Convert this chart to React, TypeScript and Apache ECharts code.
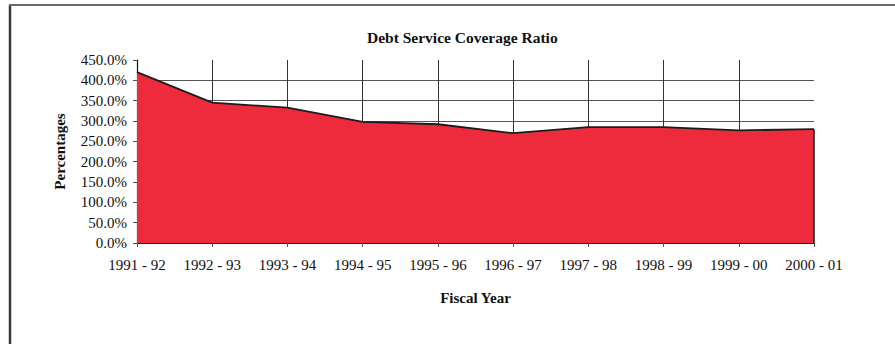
import React, { useEffect, useRef } from "react";
import * as echarts from "echarts";

const categories = [
  "1991 - 92", "1992 - 93", "1993 - 94", "1994 - 95", "1995 - 96",
  "1996 - 97", "1997 - 98", "1998 - 99", "1999 - 00", "2000 - 01",
];
const ratioValues = [420, 345, 333, 298, 292, 270, 285, 285, 277, 280];
const yMin = 0;
const yMax = 450;
const yStep = 50;

const TITLE = "Debt Service Coverage Ratio";
const X_NAME = "Fiscal Year";
const Y_NAME = "Percentages";

const FONT = "'Liberation Serif', 'Times New Roman', serif";

export default function App() {
  const ref = useRef<HTMLDivElement | null>(null);

  useEffect(() => {
    if (!ref.current) return;
    const chart = echarts.init(ref.current, undefined, { renderer: "svg" });
    const last = categories.length - 1;
    chart.setOption({
      animation: false,
      backgroundColor: "#ffffff",
      textStyle: { fontFamily: FONT },
      title: {
        text: TITLE,
        left: 362,
        top: 24,
        textStyle: { fontFamily: FONT, fontSize: 15.5, fontWeight: "bold", color: "#111" },
      },
      graphic: [
        { type: "line", shape: { x1: 10, y1: 5, x2: 10, y2: 344 }, style: { stroke: "#3a3a3a", lineWidth: 2.5 } },
        { type: "line", shape: { x1: 9, y1: 5, x2: 895, y2: 5 }, style: { stroke: "#6a6a6a", lineWidth: 2 } },
      ],
      grid: { left: 137, right: 81, top: 60, bottom: 101, containLabel: false },
      xAxis: {
        type: "category",
        data: categories,
        boundaryGap: false,
        name: X_NAME,
        nameLocation: "middle",
        nameGap: 47,
        nameTextStyle: { fontFamily: FONT, fontSize: 15, fontWeight: "bold", color: "#111" },
        axisLine: { show: true, lineStyle: { color: "#111", width: 1.2 } },
        axisTick: { show: true, alignWithLabel: true, length: 4, lineStyle: { color: "#555" } },
        axisLabel: { fontFamily: FONT, fontSize: 15, color: "#111", margin: 14, interval: 0 },
        splitLine: { show: true, showMinLine: false, showMaxLine: false, lineStyle: { color: "#333", width: 1 } },
      },
      yAxis: {
        type: "value",
        min: yMin,
        max: yMax,
        interval: yStep,
        name: Y_NAME,
        nameLocation: "middle",
        nameGap: 70,
        nameTextStyle: { fontFamily: FONT, fontSize: 15, fontWeight: "bold", color: "#111" },
        axisLine: { show: true, lineStyle: { color: "#111", width: 1.2 } },
        axisTick: { show: true, length: 4, lineStyle: { color: "#555" } },
        axisLabel: {
          fontFamily: FONT,
          fontSize: 15,
          color: "#111",
          margin: 10,
          formatter: (v: number) => v.toFixed(1) + "%",
        },
        splitLine: { show: true, showMinLine: false, showMaxLine: false, lineStyle: { color: "#555", width: 1 } },
      },
      series: [
        {
          type: "line",
          data: ratioValues,
          symbol: "none",
          lineStyle: { color: "#1c1c1c", width: 1.8 },
          areaStyle: { color: "#ee2b3d", opacity: 1 },
          z: 3,
          markLine: {
            silent: true,
            symbol: "none",
            label: { show: false },
            lineStyle: { color: "#1c1c1c", width: 1.5, type: "solid" },
            data: [
              [
                { coord: [categories[last], yMin] },
                { coord: [categories[last], ratioValues[last]] },
              ],
            ],
          },
        },
      ],
    });
    return () => chart.dispose();
  }, []);

  return (
    <div
      ref={ref}
      style={{ position: "fixed", left: 0, top: 0, width: 895, height: 344 }}
    />
  );
}
